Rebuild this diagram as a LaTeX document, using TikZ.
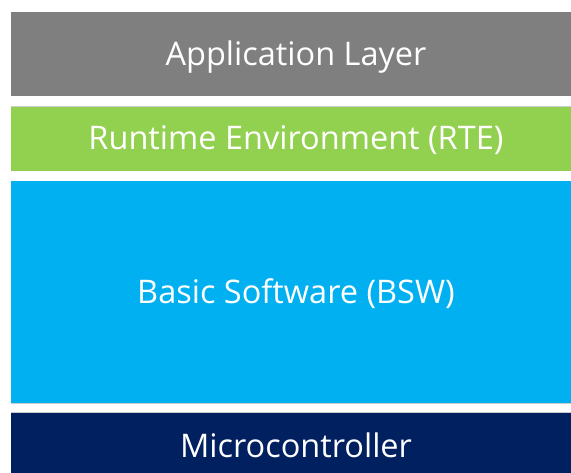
\documentclass[tikz,border=0pt]{standalone}
\usepackage{fontspec}
\setmainfont{Open Sans}
\definecolor{appgray}{HTML}{7F7F7F}
\definecolor{rtegreen}{HTML}{92D050}
\definecolor{bswblue}{HTML}{00B0F0}
\definecolor{mcunavy}{HTML}{002060}
\tikzset{
  lbl/.style={text=white, font=\fontsize{32.5}{36}\selectfont, inner sep=0pt, anchor=base}
}
\begin{document}
\begin{tikzpicture}[x=1pt,y=-1pt]
\useasboundingbox (0,0) rectangle (571,473);
\fill[white] (0,0) rectangle (571,473);
\fill[appgray] (11,12) rectangle (571,96);
\fill[rtegreen] (11,106.5) rectangle (571,171);
\fill[bswblue] (11,181) rectangle (571,403);
\fill[mcunavy] (11,413) rectangle (571,473);
\draw[gray!40, line width=0.8pt] (11,106.4) -- (571,106.4);
\draw[gray!40, line width=0.8pt] (11,403.4) -- (571,403.4);
\draw[gray!40, line width=0.8pt] (11,412.8) -- (571,412.8);
\node[lbl] (app) at (296,66) {Application Layer};
\node[lbl] (rte) at (296,150) {Runtime Environment (RTE)};
\node[lbl] (bsw) at (296,304) {Basic Software (BSW)};
\node[lbl] (mcu) at (296,457) {Microcontroller};
\end{tikzpicture}
\end{document}
